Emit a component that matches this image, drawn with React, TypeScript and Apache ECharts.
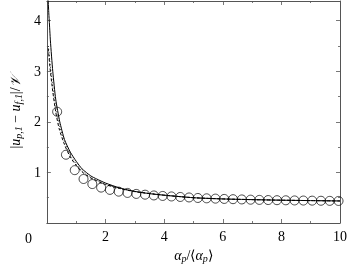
import React, { useEffect, useRef } from "react";
import * as echarts from "echarts";

const circleX = [0.35, 0.65, 0.95, 1.25, 1.55, 1.85, 2.15, 2.45, 2.75, 3.05, 3.35, 3.65, 3.95, 4.25, 4.55, 4.85, 5.15, 5.45, 5.75, 6.05, 6.35, 6.65, 6.95, 7.25, 7.55, 7.85, 8.15, 8.45, 8.75, 9.05, 9.35, 9.65, 9.95];
const circleY = [2.2, 1.35, 1.045, 0.87, 0.77, 0.7, 0.655, 0.62, 0.595, 0.575, 0.56, 0.545, 0.535, 0.525, 0.515, 0.505, 0.495, 0.488, 0.482, 0.476, 0.471, 0.466, 0.461, 0.457, 0.454, 0.451, 0.449, 0.446, 0.444, 0.442, 0.44, 0.438, 0.436];

const solidX = [0.035, 0.06, 0.08, 0.12, 0.2, 0.3, 0.44, 0.6, 0.8, 1.0, 1.2, 1.5, 1.7, 2.0, 2.5, 3.0, 3.5, 4.0, 5.0, 6.0, 7.0, 8.0, 9.0, 10.0];
const solidY = [4.5, 4.2, 4.0, 3.6, 3.0, 2.45, 2.0, 1.65, 1.4, 1.22, 1.07, 0.93, 0.87, 0.79, 0.69, 0.625, 0.58, 0.55, 0.5, 0.476, 0.462, 0.451, 0.443, 0.436];

const dashedX = [0.05, 0.1, 0.2, 0.3, 0.42, 0.6, 0.8, 1.0, 1.2, 1.5, 2.0, 2.5, 3.0, 4.0, 5.0, 6.0, 7.0, 8.0, 9.0, 10.0];
const dashedY = [3.45, 3.1, 2.6, 2.2, 1.86, 1.55, 1.3, 1.14, 1.01, 0.89, 0.76, 0.68, 0.62, 0.55, 0.5, 0.476, 0.462, 0.451, 0.443, 0.436];

const dottedX = [0.05, 0.1, 0.2, 0.3, 0.42, 0.6, 0.8, 1.0, 1.2, 1.5, 2.0, 2.5, 3.0, 4.0, 5.0, 6.0, 7.0, 8.0, 9.0, 10.0];
const dottedY = [3.5, 3.2, 2.7, 2.3, 1.95, 1.6, 1.34, 1.17, 1.03, 0.9, 0.77, 0.685, 0.622, 0.55, 0.5, 0.476, 0.462, 0.451, 0.443, 0.436];

const xTicks = { min: 0, max: 10, interval: 2 };
const yTicks = { min: 0, max: 4.39, interval: 1 };

const zip = (xs: number[], ys: number[]) => xs.map((x, i) => [x, ys[i]]);

const SERIF = "Liberation Serif";

export default function App() {
  const ref = useRef<HTMLDivElement>(null);
  useEffect(() => {
    if (!ref.current) return;
    const chart = echarts.init(ref.current, null, { renderer: "svg" });
    const axisLine = { show: true, onZero: false, lineStyle: { color: "#555", width: 1 } };
    const tick = { show: true, inside: true, length: 4, lineStyle: { color: "#555", width: 0.8 } };
    const minor = { show: true, splitNumber: 2, length: 2, lineStyle: { color: "#555", width: 0.8 } };
    const rich = {
      n: { fontFamily: SERIF, fontSize: 14, lineHeight: 16, color: "#000" },
      i: { fontFamily: SERIF, fontSize: 14, fontStyle: "italic", lineHeight: 16, color: "#000" },
      s: { fontFamily: SERIF, fontSize: 10, fontStyle: "italic", lineHeight: 6, verticalAlign: "bottom", color: "#000" },
    };
    chart.setOption({
      animation: false,
      grid: { left: 38, right: 7, top: 1, bottom: 43 },
      xAxis: [
        {
          type: "value",
          min: xTicks.min,
          max: xTicks.max,
          interval: xTicks.interval,
          axisLine,
          axisTick: tick,
          minorTick: minor,
          splitLine: { show: false },
          axisLabel: {
            fontFamily: SERIF,
            fontSize: 14,
            color: "#000",
            margin: 6,
            formatter: (v: number) => (v === 0 ? "" : String(v)),
          },
          name: "{i|α}{s|p}{n|/⟨}{i|α}{s|p}{n|⟩}",
          nameLocation: "middle",
          nameGap: 24,
          nameTextStyle: { rich },
        },
        {
          type: "value",
          position: "top",
          min: xTicks.min,
          max: xTicks.max,
          interval: xTicks.interval,
          axisLine,
          axisTick: tick,
          minorTick: minor,
          splitLine: { show: false },
          axisLabel: { show: false },
        },
      ],
      yAxis: [
        {
          type: "value",
          min: yTicks.min,
          max: yTicks.max,
          interval: yTicks.interval,
          axisLine,
          axisTick: tick,
          minorTick: minor,
          splitLine: { show: false },
          axisLabel: {
            fontFamily: SERIF,
            fontSize: 14,
            color: "#000",
            margin: 6,
            formatter: (v: number) => (v === 0 || !Number.isInteger(v) ? "" : String(v)),
          },
          name: "{n||}{i|u}{s|p,1}{n| − }{i|u}{s|f,1}{n||/}{i|𝒱}",
          nameLocation: "middle",
          nameRotate: 90,
          nameGap: 18,
          nameTextStyle: { rich },
        },
        {
          type: "value",
          position: "right",
          min: yTicks.min,
          max: yTicks.max,
          interval: yTicks.interval,
          axisLine,
          axisTick: tick,
          minorTick: minor,
          splitLine: { show: false },
          axisLabel: { show: false },
        },
      ],
      graphic: [
        {
          type: "text",
          left: 25,
          top: 231,
          style: { text: "0", fontFamily: SERIF, fontSize: 14, fill: "#000" },
        },
      ],
      series: [
        {
          type: "line",
          data: zip(solidX, solidY),
          showSymbol: false,
          smooth: 0.2,
          clip: true,
          lineStyle: { color: "#000", width: 1 },
        },
        {
          type: "line",
          data: zip(dashedX, dashedY),
          showSymbol: false,
          smooth: 0.2,
          clip: true,
          lineStyle: { color: "#000", width: 1, type: [3, 2] },
        },
        {
          type: "line",
          data: zip(dottedX, dottedY),
          showSymbol: false,
          smooth: 0.2,
          clip: true,
          lineStyle: { color: "#000", width: 0.8, type: [1, 2] },
        },
        {
          type: "scatter",
          data: zip(circleX, circleY),
          symbol: "circle",
          symbolSize: 9,
          itemStyle: { color: "transparent", borderColor: "#000", borderWidth: 0.9 },
        },
      ],
    });
    return () => chart.dispose();
  }, []);
  return <div ref={ref} style={{ position: "fixed", left: 0, top: 0, width: 350, height: 268 }} />;
}
